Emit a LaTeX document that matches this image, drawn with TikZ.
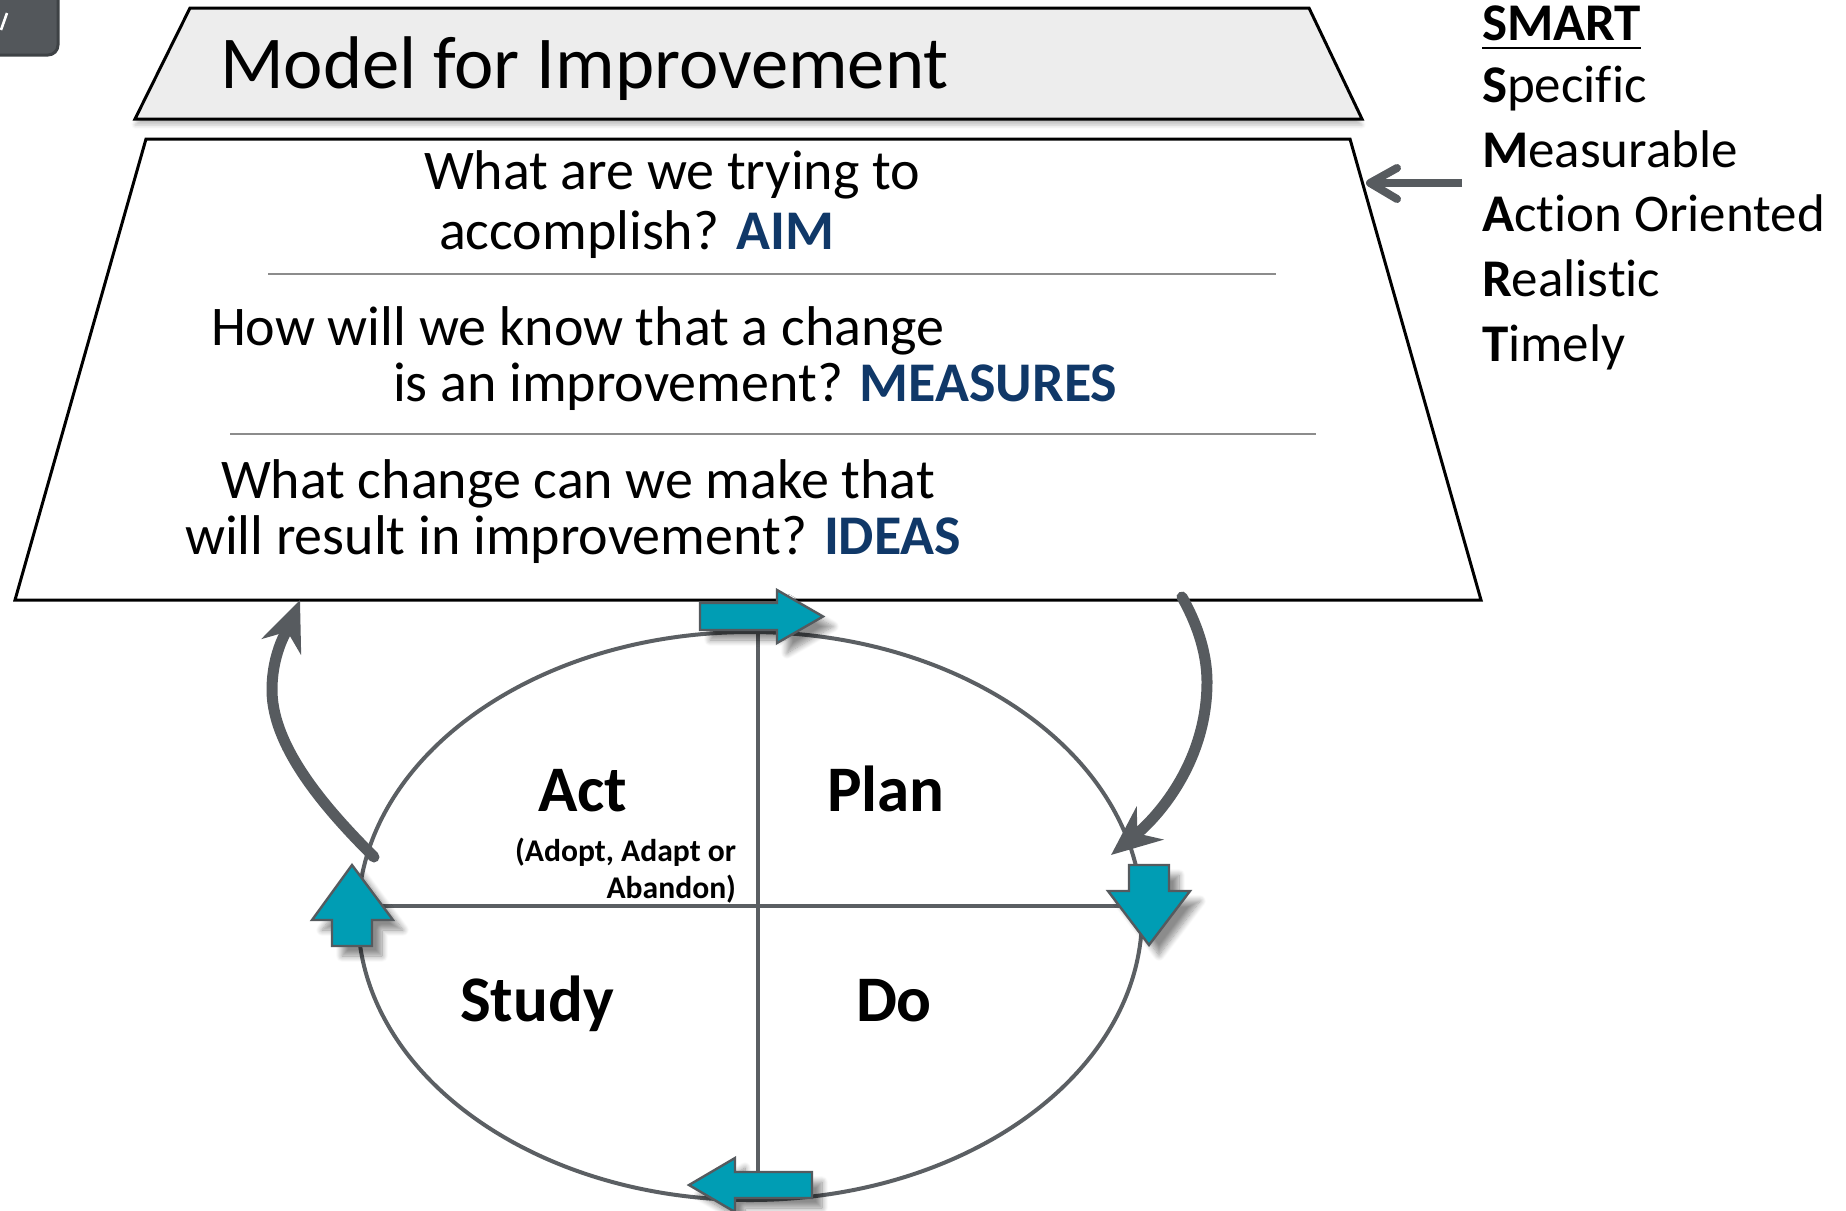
\documentclass[tikz,border=0pt]{standalone}
\usepackage{fontspec}
\setmainfont{Carlito}[Ligatures={NoCommon}]
\usetikzlibrary{arrows.meta,shadows.blur}
\definecolor{tealfill}{RGB}{0,157,180}
\definecolor{arrowedge}{RGB}{85,90,94}
\definecolor{cyclegrey}{RGB}{91,95,99}
\definecolor{loopgrey}{RGB}{87,91,95}
\definecolor{divgrey}{RGB}{140,140,140}
\definecolor{aimblue}{RGB}{16,56,104}
\definecolor{titlefill}{RGB}{237,237,237}
\definecolor{btnfill}{RGB}{83,87,91}
\definecolor{btnedge}{RGB}{62,66,69}
\newcommand\mfiTitle{\fontsize{37.3pt}{45pt}\selectfont}
\newcommand\mfiQ{\fontsize{28pt}{33pt}\selectfont}
\newcommand\mfiSmart{\fontsize{26.5pt}{31pt}\selectfont}
\newcommand\mfiPhase{\fontsize{32.5pt}{39pt}\selectfont\bfseries}
\newcommand\mfiSmall{\fontsize{15.8pt}{19pt}\selectfont\bfseries}
\newcommand\mfiKey[1]{{\bfseries\color{aimblue}#1}}
\begin{document}
\begin{tikzpicture}[x=0.5pt,y=-0.5pt,
  txt/.style={anchor=base west, inner sep=0pt, outer sep=0pt},
  rtxt/.style={anchor=base east, inner sep=0pt, outer sep=0pt},
  cyclearrow/.style={fill=tealfill, draw=arrowedge, line width=1.2pt, line join=miter,
     blur shadow={shadow xshift=5pt, shadow yshift=-5pt, shadow blur radius=3pt, shadow blur steps=10, shadow opacity=45}},
  loop/.style={draw=loopgrey, line width=5.5pt, line cap=round,
     -{Stealth[length=25pt, width=21pt, inset=8pt]}},
  divider/.style={draw=divgrey, line width=1.2pt},
  cycleline/.style={draw=cyclegrey, line width=2pt}
]
\useasboundingbox (0,0) rectangle (1846,1210);

% corner button fragment
\filldraw[fill=btnfill, draw=btnedge, line width=1.5pt, rounded corners=5pt] (-30,-30) rectangle (58,55);
\draw[white, line width=1.3pt] (7,13) -- (1,30);

% title trapezoid
\filldraw[fill=titlefill, draw=black, line width=1.5pt,
  blur shadow={shadow xshift=0pt, shadow yshift=-3pt, shadow blur radius=2pt, shadow opacity=25}]
  (190,8) -- (1309,8) -- (1362,119) -- (135,119) -- cycle;
\node[txt, font=\mfiTitle] (title) at (220,88) {Model for Improvement};

% main trapezoid
\draw[black, line width=1.5pt, fill=white] (146,139) -- (1350,139) -- (1481,600) -- (15,600) -- cycle;
\coordinate (trapbl) at (300,600);
\coordinate (trapbr) at (1182,597);

\draw[divider] (268,274) -- (1276,274);
\draw[divider] (230,434) -- (1316,434);

\node[txt, font=\mfiQ] (q1a) at (424,189) {What are we trying to};
\node[txt, font=\mfiQ] (q1b) at (439,249) {accomplish? \mfiKey{AIM}};
\node[txt, font=\mfiQ] (q2a) at (211,345.5) {How will we know that a change};
\node[txt, font=\mfiQ] (q2b) at (393,401) {is an improvement? \mfiKey{MEASURES}};
\node[txt, font=\mfiQ] (q3a) at (221,498) {What change can we make that};
\node[txt, font=\mfiQ] (q3b) at (185,554) {will result in improvement? \mfiKey{IDEAS}};

% SMART list
\node[txt, font=\mfiSmart\bfseries] (smart) at (1482,40) {SMART};
\draw[black, line width=1.2pt] ([yshift=-4pt]smart.base west) -- ([yshift=-4pt]smart.base east);
\node[txt, font=\mfiSmart] (sS) at (1482,102) {\textbf{S}pecific};
\node[txt, font=\mfiSmart] (sM) at (1482,167) {\textbf{M}easurable};
\node[txt, font=\mfiSmart] (sA) at (1482,231) {\textbf{A}ction Oriented};
\node[txt, font=\mfiSmart] (sR) at (1482,296) {\textbf{R}ealistic};
\node[txt, font=\mfiSmart] (sT) at (1482,361) {\textbf{T}imely};

% SMART arrow
\coordinate (smarttail) at (1462,183);
\coordinate (smarttip) at (1370,183);
\draw[loopgrey, line width=4pt] (smarttail) -- (smarttip);
\draw[loopgrey, line width=4pt, line cap=round, line join=round] (1397,168) -- (smarttip) -- (1397,199);

% PDSA cycle
\draw[cycleline] (750,916) ellipse [x radius=392, y radius=284];
\draw[cycleline] (758,632) -- (758,1200);
\draw[cycleline] (358,906) -- (1142,906);

\node[txt, font=\mfiPhase] (act) at (538,811.5) {Act};
\node[txt, font=\mfiPhase] (plan) at (827,811.5) {Plan};
\node[txt, font=\mfiPhase] (study) at (460,1021) {Study};
\node[txt, font=\mfiPhase] (do) at (856,1021) {Do};
\node[rtxt, font=\mfiSmall] (adopt) at (736,861) {(Adopt, Adapt or};
\node[rtxt, font=\mfiSmall] (abandon) at (736,898) {Abandon)};

% teal direction arrows
\filldraw[cyclearrow] (700,603) -- (777,603) -- (777,590) -- (823,616.5) -- (777,643) -- (777,630) -- (700,630) -- cycle;
\filldraw[cyclearrow] (1129,865) -- (1169,865) -- (1169,891) -- (1190,891) -- (1149,945) -- (1108,891) -- (1129,891) -- cycle;
\filldraw[cyclearrow] (812,1172) -- (735,1172) -- (735,1158) -- (689,1185) -- (735,1212) -- (735,1198) -- (812,1198) -- cycle;
\filldraw[cyclearrow] (332,946) -- (332,920) -- (312,920) -- (352,865) -- (393,920) -- (372,920) -- (372,946) -- cycle;

% feedback loops
\coordinate (actend) at (374,857);
\coordinate (planend) at (1111,855);
\draw[loop] (actend) .. controls (332,815) and (272,750) .. (272,690)
   .. controls (272,650) and (290,625) .. (trapbl);
\draw[loop] (trapbr) .. controls (1195,620) and (1207,650) .. (1207,682)
   .. controls (1207,760) and (1160,815) .. (planend);
\end{tikzpicture}
\end{document}
